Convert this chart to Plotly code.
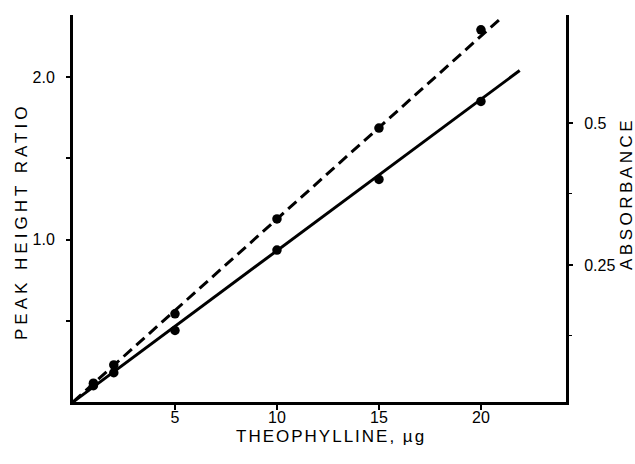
import plotly.graph_objects as go

# Data
theophylline = [1, 2, 5, 10, 15, 20]
peak_height_ratio = [0.10, 0.18, 0.44, 0.935, 1.37, 1.85]
absorbance = [0.042, 0.074, 0.164, 0.331, 0.491, 0.664]

ratio_fit_x = [0, 21.9]
ratio_fit_y = [0, 2.04]
abs_fit_x = [0, 21.0]
abs_fit_y = [0.009, 0.685]

x_ticks = [5, 10, 15, 20]
x_ticktext = ["5", "10", "15", "20"]
y_ticks = [0.5, 1.0, 1.5, 2.0]
y_ticktext = ["", "1.0", "", "2.0"]
y2_ticks = [0.25, 0.5]
y2_ticktext = ["0.25", "0.5"]
y2_minor = [0.125, 0.375]

TICKFONT = dict(family="Liberation Sans, Arial, sans-serif", size=16, color="black")
TITLEFONT = dict(family="Liberation Sans, Arial, sans-serif", size=17, color="black")

fig = go.Figure()
fig.add_trace(go.Scatter(x=ratio_fit_x, y=ratio_fit_y, mode="lines",
                         line=dict(color="black", width=3), showlegend=False))
fig.add_trace(go.Scatter(x=abs_fit_x, y=abs_fit_y, mode="lines", yaxis="y2",
                         line=dict(color="black", width=3, dash="11px,6px"), showlegend=False))
fig.add_trace(go.Scatter(x=theophylline, y=peak_height_ratio, mode="markers",
                         marker=dict(color="black", size=9.5), showlegend=False))
fig.add_trace(go.Scatter(x=theophylline, y=absorbance, mode="markers", yaxis="y2",
                         marker=dict(color="black", size=9.5), showlegend=False))

fig.update_layout(
    width=635, height=464,
    margin=dict(l=73, r=69, t=15, b=62),
    paper_bgcolor="white", plot_bgcolor="white",
    xaxis=dict(range=[0, 24.17], tickvals=x_ticks, ticktext=x_ticktext,
               showline=True, linecolor="black", linewidth=3, ticks="outside",
               ticklen=5, tickwidth=2, tickcolor="black", showgrid=False, zeroline=False,
               tickfont=TICKFONT, ticklabelstandoff=-6),
    yaxis=dict(range=[0, 2.382], tickvals=y_ticks, ticktext=y_ticktext,
               showline=True, linecolor="black", linewidth=3, ticks="outside",
               ticklen=4, tickwidth=2, tickcolor="black", showgrid=False, zeroline=False,
               tickfont=TICKFONT, ticklabelstandoff=8),
    yaxis2=dict(range=[0.0088, 0.690], overlaying="y", side="right",
                tickvals=y2_ticks, ticktext=y2_ticktext,
                showline=True, linecolor="black", linewidth=3, ticks="outside",
                ticklen=4, tickwidth=2, tickcolor="black", showgrid=False, zeroline=False,
                tickfont=TICKFONT, ticklabelstandoff=8,
                minor=dict(tickvals=y2_minor, ticks="outside", ticklen=3, tickwidth=1, tickcolor="black")),
    annotations=[
        dict(text='<span style="letter-spacing:2px">THEOPHYLLINE, µg</span>', xref="paper", yref="paper",
             x=(331 - 73) / 493, y=-(436 - 402) / 387, showarrow=False, font=TITLEFONT,
             xanchor="center", yanchor="middle"),
        dict(text='<span style="letter-spacing:4px">PEAK HEIGHT RATIO</span>', xref="paper", yref="paper",
             x=-(73 - 21) / 493, y=(402 - 222) / 387, showarrow=False, font=TITLEFONT, textangle=-90,
             xanchor="center", yanchor="middle"),
        dict(text='<span style="letter-spacing:3.5px">ABSORBANCE</span>', xref="paper", yref="paper",
             x=1 + (626 - 566) / 493, y=(402 - 194) / 387, showarrow=False, font=TITLEFONT, textangle=-90,
             xanchor="center", yanchor="middle"),
    ],
)

fig.write_html("out.html", config={"displayModeBar": False},
               post_script="document.body.style.margin='0';")
